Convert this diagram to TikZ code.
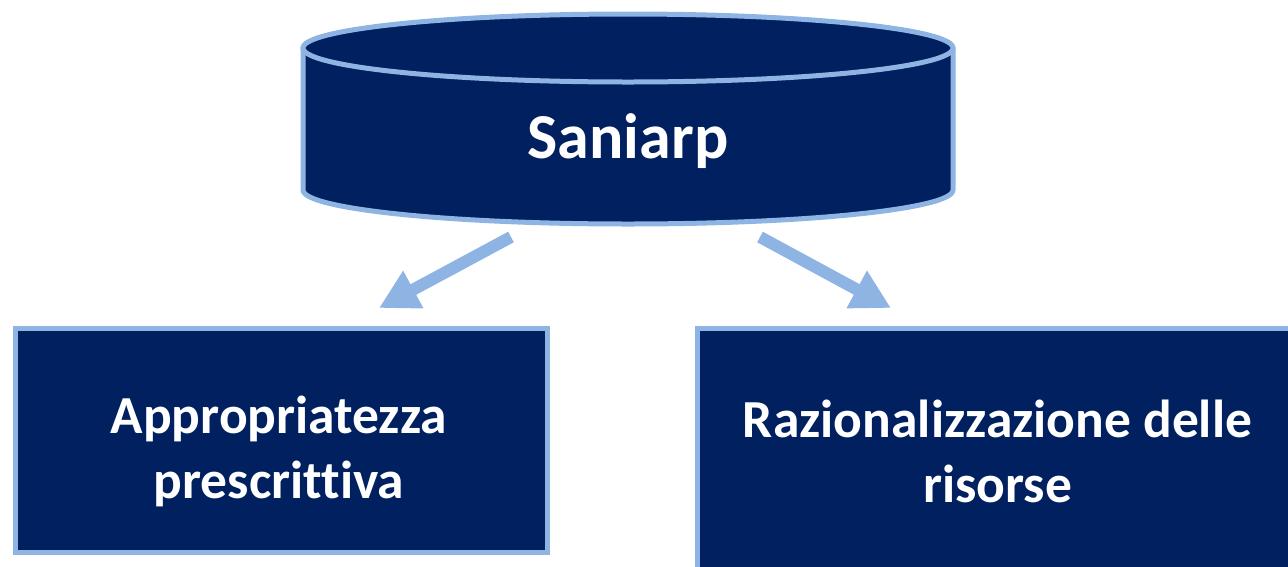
\documentclass[tikz,border=0pt]{standalone}
\usepackage{fontspec}
\setmainfont[Ligatures=NoCommon]{Carlito}
\usetikzlibrary{arrows.meta}
\definecolor{navy}{RGB}{0,32,96}
\definecolor{lblue}{RGB}{142,180,227}
\tikzset{
  edgeline/.style={draw=lblue, line width=5pt},
  boxnode/.style={edgeline, fill=navy, rectangle, inner sep=0pt},
  txt/.style={text=white, font=\bfseries\fontsize{53.5}{65}\selectfont, align=center},
  arr/.style={draw=lblue, line width=12pt, -{Triangle[width=40pt,length=39pt]}},
}
\begin{document}
\begin{tikzpicture}[x=1pt,y=1pt]
\useasboundingbox (0,0) rectangle (1288,-566);
% cylinder
\filldraw[edgeline, fill=navy, line join=round] (303,-48) -- (303,-190) arc[start angle=180, end angle=360, x radius=325pt, y radius=34pt] -- (953,-48) -- cycle;
\filldraw[edgeline, fill=navy] (628,-48) ellipse [x radius=325pt, y radius=34pt];
\node[txt, font=\bfseries\fontsize{64}{76}\selectfont] (db) at (628,-141) {Saniarp};
% boxes
\node[boxnode, minimum width=532pt, minimum height=224pt, anchor=north west] (lbox) at (13,-326) {};
\node[txt] (ltxt) at (279,-451.5) {Appropriatezza\\prescrittiva};
\begin{scope}
\clip (0,0) rectangle (1288,-566);
\node[boxnode, minimum width=607pt, minimum height=270pt, anchor=north west] (rbox) at (695,-326) {};
\end{scope}
\node[txt] (rtxt) at (997.5,-451.5) {Razionalizzazione delle\\risorse};
% arrows
\coordinate (a1s) at (511,-237);
\coordinate (a1e) at (379,-308);
\coordinate (a2s) at (760,-237);
\coordinate (a2e) at (891,-308);
\draw[arr] (a1s) -- (a1e);
\draw[arr] (a2s) -- (a2e);
\end{tikzpicture}
\end{document}
